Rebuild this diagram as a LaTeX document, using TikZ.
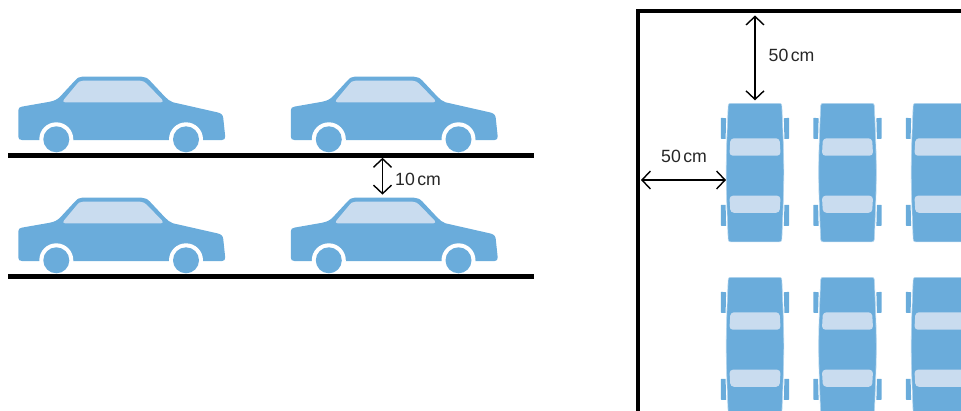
\documentclass[tikz,border=0pt]{standalone}
\usepackage{fontspec}
\setmainfont{Liberation Sans}
\usetikzlibrary{arrows.meta}
\definecolor{carblue}{HTML}{6AACDB}
\definecolor{glass}{HTML}{C9DCEF}
\definecolor{edgeblue}{HTML}{B5D6EE}
\tikzset{
  x=1pt,y=-1pt,
  barrier/.style={line width=5pt,black},
  wall/.style={line width=4.4pt,black,line cap=rect,line join=miter},
  gap/.style={line width=1.4pt,black,{Straight Barb[length=8.5pt,width=18pt,line width=1.4pt]}-{Straight Barb[length=8.5pt,width=18pt,line width=1.4pt]}},
  dim/.style={font=\fontsize{17.7}{20}\selectfont,text=black!85,inner sep=0pt},
  pics/sidecar/.style={code={
    % body, wheel arches, wheels and side window; origin sits on the car's own frame
    \fill[carblue] (22,140) .. controls (19.5,140) and (18.3,139) .. (18.3,136.5)
      -- (18.3,110.5) .. controls (18.3,108) and (19.5,107) .. (22,106.6)
      -- (50,101.7)
      .. controls (55,100.5) and (57,99.5) .. (60,96.7) -- (75,80.5)
      .. controls (77,78) and (79,76.7) .. (82,76.7) -- (141.5,76.7)
      .. controls (145,76.7) and (147.5,78) .. (150,80.7) -- (165,96.7)
      .. controls (167.5,99.5) and (170,101) .. (173,102.3) -- (218,112.5)
      .. controls (221.5,113.5) and (223,115) .. (223.3,118.5)
      -- (225.2,136.5) .. controls (225.3,139) and (224,140) .. (222,140) -- cycle;
    \fill[white] (56.3,139.3) circle[radius=17] (186,139.3) circle[radius=17];
    \fill[carblue] (56.3,139.3) circle[radius=13] (186,139.3) circle[radius=13];
    \fill[glass] (65,102.3) .. controls (63,102.3) and (62.7,101) .. (64,99.5)
      -- (76.5,84.5) .. controls (78,82) and (80,80.7) .. (83,80.7) -- (140,80.7)
      .. controls (143,80.7) and (145,82) .. (147,84) -- (162,99.5)
      .. controls (163.3,101) and (163,102.3) .. (161,102.3) -- cycle;
    \coordinate (-roof) at (111,76.7);
  }},
  pics/topcar/.style={code={
    % plan view centred on x=0, nose at y=0; mirrors and wheels stand clear of the body
    \foreach \sx in {-1,1}{
      \fill[carblue] (\sx*28.9,15) -- (\sx*33.6,14.5) -- (\sx*34.2,15) -- (\sx*34.2,35) -- (\sx*33.6,35.5) -- (\sx*29.4,35.5) -- cycle;
      \fill[carblue] (\sx*29.4,101.5) -- (\sx*33.6,101.5) -- (\sx*34.2,102) -- (\sx*34.2,122) -- (\sx*33.6,122.5) -- (\sx*28.9,122.5) -- cycle;
    }
    \fill[carblue,draw=edgeblue,line width=.6pt] (-24.5,0) -- (24.5,0)
      .. controls (26,0) and (26.6,.8) .. (26.8,2.5)
      .. controls (27.8,25) and (28.8,50) .. (28.8,69)
      .. controls (28.8,88) and (27.8,113) .. (26.8,136)
      .. controls (26.6,137.7) and (26,138.5) .. (24.5,138.5) -- (-24.5,138.5)
      .. controls (-26,138.5) and (-26.6,137.7) .. (-26.8,136)
      .. controls (-27.8,113) and (-28.8,88) .. (-28.8,69)
      .. controls (-28.8,50) and (-27.8,25) .. (-26.8,2.5)
      .. controls (-26.6,.8) and (-26,0) .. (-24.5,0) -- cycle;
    \fill[glass,rounded corners=3.5pt] (-24.6,35) -- (24.6,35)
      -- (25.6,52.4) -- (-25.6,52.4) -- cycle;
    \fill[glass,rounded corners=3.5pt] (-25.6,92.4) -- (25.6,92.4)
      -- (24.6,109.5) -- (-24.6,109.5) -- cycle;
    \coordinate (-nose) at (0,-3);
    \coordinate (-flank) at (-29,76.7);
  }}
}
\begin{document}
\begin{tikzpicture}
\useasboundingbox (0,0) rectangle (961,410);
\clip (0,0) rectangle (961,410);

% two decks of parked cars, seen from the side
\pic (a1) at (0,0) {sidecar};
\pic (a2) at (272.5,0) {sidecar};
\pic (b1) at (0,121) {sidecar};
\pic (b2) at (272.5,121) {sidecar};
\coordinate (deckAl) at (8,155.3);
\coordinate (deckAr) at (533.5,155.3);
\coordinate (deckBl) at (8,276.3);
\coordinate (deckBr) at (533.5,276.3);
\draw[barrier] (deckAl) -- (deckAr);
\draw[barrier] (deckBl) -- (deckBr);

% spacing between the decks
\coordinate (deckgap) at (382.5,157.8);
\coordinate (roofgap) at (382.5,194.6);
\draw[gap] (deckgap) -- (roofgap);
\node[dim,anchor=west] (lblten) at (395,179.5) {10\kern2.5pt cm};

% parking bay seen from above
\coordinate (wallbottom) at (638,420);
\coordinate (wallcorner) at (638,10.7);
\coordinate (wallright) at (970,10.7);
\draw[wall] (wallbottom) -- (wallcorner) -- (wallright);
\pic (t1) at (755,103.3) {topcar};
\pic (t2) at (847.5,103.3) {topcar};
\pic (t3) at (940,103.3) {topcar};
\pic (u1) at (755,277.3) {topcar};
\pic (u2) at (847.5,277.3) {topcar};
\pic (u3) at (940,277.3) {topcar};

% clearances from the walls
\coordinate (walltop) at (755,15.5);
\coordinate (wallleft) at (641,180);
\draw[gap] (walltop) -- (t1-nose);
\draw[gap] (wallleft) -- (t1-flank |- wallleft);
\node[dim,anchor=west] (lbltop) at (768.5,55) {50\kern2.5pt cm};
\node[dim,anchor=west] (lblleft) at (661,156) {50\kern2.5pt cm};
\end{tikzpicture}
\end{document}
